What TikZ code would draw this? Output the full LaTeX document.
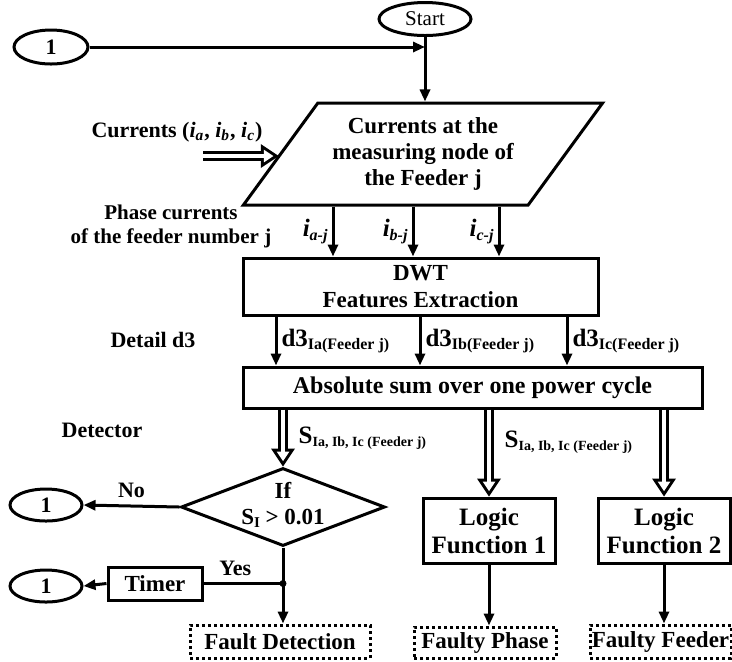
\documentclass[tikz,border=0pt]{standalone}
\usepackage{fontspec}
\setmainfont{Liberation Serif}
\usetikzlibrary{shapes.geometric,arrows.meta}

\newcommand{\low}[2][7]{\raisebox{-1.6pt}{\fontsize{#1}{8}\selectfont #2}}

\begin{document}
\begin{tikzpicture}[x=0.5pt,y=-0.5pt,line width=1.5pt,
	font=\bfseries\fontsize{11}{13}\selectfont,
	>={Triangle[length=6pt,width=5pt]},
	box/.style={draw,rectangle,align=center,inner sep=0pt,font=\bfseries\fontsize{11.5}{13.5}\selectfont},
	oval/.style={draw,ellipse,inner sep=0pt,minimum width=36pt,minimum height=16pt,font=\bfseries\fontsize{11}{13}\selectfont},
	result/.style={box,dash pattern=on 1.5pt off 1.5pt},
	sub/.style={font=\bfseries\fontsize{12.5}{14}\selectfont},
	hollow/.style={line width=5pt,-{Triangle[length=9pt,width=12pt,line width=0pt]},
		postaction={draw=white,line width=2pt,-{Triangle[length=4.8pt,width=6.4pt,line width=0pt]},shorten >=2.7pt}}]
	
	\useasboundingbox (0,0) rectangle (732,661);
	
	\node [oval,minimum width=46pt,minimum height=16.5pt,font=\fontsize{10.5}{12}\selectfont] (start) at (425,19) {Start};
	\node [oval,minimum width=37pt,minimum height=17pt] (one) at (51,47) {1};
	
	\node [draw,trapezium,trapezium left angle=48.6,trapezium right angle=131.4,trapezium stretches=true,
		minimum width=180pt,minimum height=51pt,inner sep=0pt,align=center,
		font=\bfseries\fontsize{11.5}{13}\selectfont] (feeder) at (423,154) {Currents at the\\measuring node of\\the Feeder j};
	\node (curr) at (177,132) {Currents (\textit{i\textsubscript{a}}, \textit{i\textsubscript{b}}, \textit{i\textsubscript{c}})};
	\coordinate (inp) at (203,156);
	\node [align=center,font=\bfseries\fontsize{10.5}{12}\selectfont] (phase) at (171,226) {Phase currents\\of the feeder number j};
	
	\node [box,minimum width=177.5pt,minimum height=28.5pt] (dwt) at (420.5,286.5) {DWT\\Features Extraction};
	\node (detail) at (153,340) {Detail d3};
	\node [box,minimum width=229.5pt,minimum height=20.5pt,font=\bfseries\fontsize{12}{14}\selectfont] (abs) at (472.5,387.5) {Absolute sum over one power cycle};
	\node (detector) at (102,430) {Detector};
	
	\node [draw,diamond,minimum width=102pt,minimum height=39pt,inner sep=0pt,
		label={[align=center,yshift=1pt,font=\bfseries\fontsize{11.5}{13}\selectfont]center:If\\S\low[7.5]{I} > 0.01}] (test) at (283,507) {};
	\node [oval] (no) at (46,505) {1};
	\node [box,minimum width=47pt,minimum height=16.5pt] (timer) at (155,583.5) {Timer};
	\node [oval] (back) at (46,586) {1};
	\coordinate (dot) at (test.south |- timer.east);
	
	\node [box,minimum width=66pt,minimum height=32.5pt,font=\bfseries\fontsize{12.5}{14}\selectfont] (logica) at (489,530.5) {Logic\\Function 1};
	\node [box,minimum width=66pt,minimum height=32.5pt,font=\bfseries\fontsize{12.5}{14}\selectfont] (logicb) at (664,530.5) {Logic\\Function 2};
	
	\node [result,minimum width=90pt,minimum height=16.5pt] (fault) at (280,641.5) {Fault Detection};
	\node [result,minimum width=71pt,minimum height=15.5pt] (phaseout) at (485,642.5) {Faulty Phase};
	\node [result,minimum width=70.5pt,minimum height=16.5pt] (feederout) at (660.5,641.5) {Faulty Feeder};
	
	% top
	\draw [->] (start.south) -- (start.south |- feeder.north);
	\draw [->] (one.east) -- (one.east -| start.south);
	\draw [hollow] (inp) -- (inp -| feeder.west);
	
	% phase currents
	\foreach \x/\p in {333/a,413/b,499/c} {
		\coordinate (c\p) at (\x,0);
		\draw [->] (feeder.south -| c\p) -- (dwt.north -| c\p)
			node [midway,left,inner sep=2pt,sub] {\textit{i\low[8]{\p-j}}};
	}
	
	% details
	\foreach \x/\p in {276/a,420/b,567/c} {
		\coordinate (d\p) at (\x,0);
		\draw [->] (dwt.south -| d\p) -- (abs.north -| d\p)
			node [midway,right,inner sep=2pt,sub] {d3\low[8]{I\p(Feeder j)}};
	}
	
	\draw [hollow] (abs.south -| test.north) -- (test.north)
		node [midway,right,xshift=2pt,sub] {S\low{Ia, Ib, Ic (Feeder j)}};
	\draw [hollow] (abs.south -| logica.north) -- (logica.north)
		node [pos=0.38,right,xshift=2pt,sub] {S\low{Ia, Ib, Ic (Feeder j)}};
	\draw [hollow] (abs.south -| logicb.north) -- (logicb.north);
	
	% detector
	\draw [->] (test.west) -- (no.east) node [midway,above] {No};
	\draw (test.south) -- (dot);
	\fill (dot) circle (3.5);
	\draw (dot) -- (timer.east) node [pos=0.6,above] {Yes};
	\draw [->] (timer.west) -- (back.east);
	\draw [->] (dot) -- (dot |- fault.north);
	
	\draw [->] (logica.south) -- (phaseout.north -| logica.south);
	\draw [->] (logicb.south) -- (feederout.north -| logicb.south);
	
\end{tikzpicture}
\end{document}
